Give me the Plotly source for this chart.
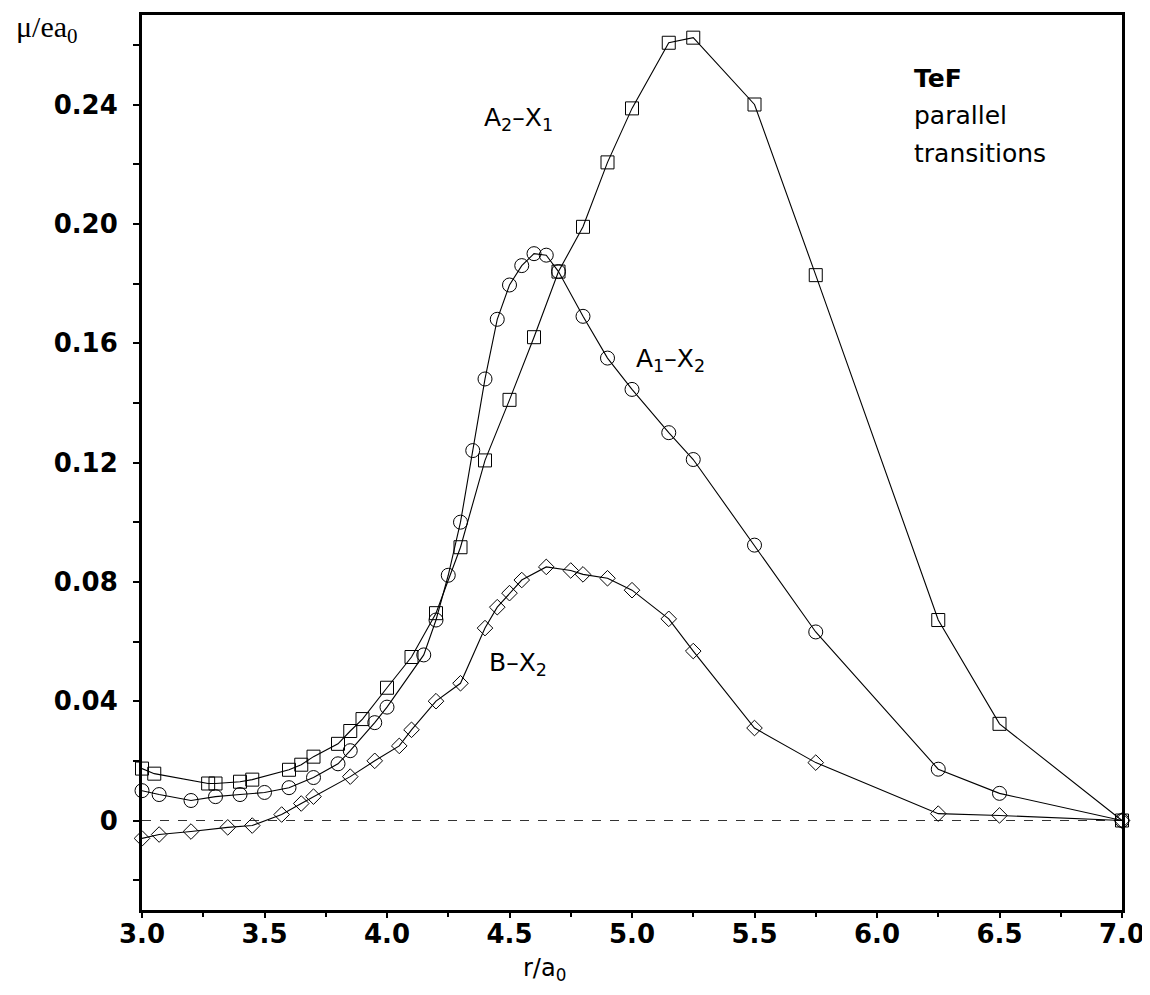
import plotly.graph_objects as go

# A2-X1 (squares)
x_a2x1 = [3.0, 3.05, 3.27, 3.3, 3.4, 3.45, 3.6, 3.65, 3.7, 3.8, 3.85, 3.9, 4.0, 4.1, 4.2,
          4.3, 4.4, 4.5, 4.6, 4.7, 4.8, 4.9, 5.0, 5.15, 5.25, 5.5, 5.75, 6.25, 6.5, 7.0]
y_a2x1 = [0.0174, 0.0157, 0.0124, 0.0124, 0.0130, 0.0137, 0.0170, 0.0187, 0.0214, 0.0257,
          0.0300, 0.0340, 0.0445, 0.0548, 0.0695, 0.0916, 0.1207, 0.1410, 0.1620, 0.1840,
          0.1990, 0.2206, 0.2387, 0.2607, 0.2624, 0.2400, 0.1828, 0.0672, 0.0324, 0.0]

# A1-X2 (circles)
x_a1x2 = [3.0, 3.07, 3.2, 3.3, 3.4, 3.5, 3.6, 3.7, 3.8, 3.85, 3.95, 4.0, 4.15, 4.2, 4.25,
          4.3, 4.35, 4.4, 4.45, 4.5, 4.55, 4.6, 4.65, 4.7, 4.8, 4.9, 5.0, 5.15, 5.25, 5.5,
          5.75, 6.25, 6.5, 7.0]
y_a1x2 = [0.0100, 0.0087, 0.0067, 0.0080, 0.0087, 0.0094, 0.0110, 0.0144, 0.0190, 0.0234,
          0.0328, 0.0380, 0.0555, 0.0672, 0.0822, 0.1000, 0.1240, 0.1480, 0.1680, 0.1795,
          0.1860, 0.1900, 0.1895, 0.1840, 0.1690, 0.1550, 0.1445, 0.1300, 0.1210, 0.0923,
          0.0632, 0.0172, 0.0091, 0.0]

# B-X2 (diamonds)
x_bx2 = [3.0, 3.07, 3.2, 3.35, 3.45, 3.57, 3.65, 3.7, 3.85, 3.95, 4.05, 4.1, 4.2, 4.3, 4.4,
         4.45, 4.5, 4.55, 4.65, 4.75, 4.8, 4.9, 5.0, 5.15, 5.25, 5.5, 5.75, 6.25, 6.5, 7.0]
y_bx2 = [-0.0060, -0.0047, -0.0037, -0.0023, -0.0017, 0.0020, 0.0057, 0.0080, 0.0147, 0.0200,
         0.0250, 0.0304, 0.0400, 0.0460, 0.0645, 0.0715, 0.0762, 0.0806, 0.0850, 0.0838,
         0.0825, 0.0812, 0.0772, 0.0676, 0.0568, 0.0310, 0.0194, 0.0023, 0.0017, 0.0]

x_ticks = [3.0, 3.5, 4.0, 4.5, 5.0, 5.5, 6.0, 6.5, 7.0]
x_ticktext = ["3.0", "3.5", "4.0", "4.5", "5.0", "5.5", "6.0", "6.5", "7.0"]
y_ticks = [0, 0.04, 0.08, 0.12, 0.16, 0.20, 0.24]
y_ticktext = ["0", "0.04", "0.08", "0.12", "0.16", "0.20", "0.24"]

fig = go.Figure()

def add(xs, ys, sym, size):
    fig.add_trace(go.Scatter(
        x=xs, y=ys, mode="lines+markers",
        line=dict(color="black", width=1.1),
        marker=dict(symbol=sym, size=size, color="black", line=dict(width=1, color="black")),
        showlegend=False, cliponaxis=False))

add(x_a2x1, y_a2x1, "square-open", 13)
add(x_a1x2, y_a1x2, "circle-open", 14)
add(x_bx2, y_bx2, "diamond-open", 12)

fig.add_shape(type="line", xref="x", yref="y", x0=3.0, x1=7.0, y0=0, y1=0,
              line=dict(color="#333", width=1, dash="dash"), layer="below")

tfont = dict(family="DejaVu Sans, sans-serif", size=25, color="black")
fig.add_annotation(x=4.388, y=0.235, xref="x", yref="y", text="A<sub>2</sub>–X<sub>1</sub>",
                   showarrow=False, xanchor="left", yanchor="middle", font=tfont)
fig.add_annotation(x=5.008, y=0.1544, xref="x", yref="y", text="A<sub>1</sub>–X<sub>2</sub>",
                   showarrow=False, xanchor="left", yanchor="middle", font=tfont)
fig.add_annotation(x=4.408, y=0.0525, xref="x", yref="y", text="B–X<sub>2</sub>",
                   showarrow=False, xanchor="left", yanchor="middle", font=tfont)
fig.add_annotation(x=6.143, y=0.2487, xref="x", yref="y", text="<b>TeF</b>",
                   showarrow=False, xanchor="left", yanchor="middle", font=tfont)
fig.add_annotation(x=6.143, y=0.2362, xref="x", yref="y", text="parallel",
                   showarrow=False, xanchor="left", yanchor="middle", font=tfont)
fig.add_annotation(x=6.143, y=0.2235, xref="x", yref="y", text="transitions",
                   showarrow=False, xanchor="left", yanchor="middle", font=tfont)

fig.add_annotation(x=-0.097, y=0.984, xref="paper", yref="paper", text="μ/ea<sub>0</sub>",
                   showarrow=False, xanchor="center", yanchor="middle",
                   font=dict(family="Liberation Serif, Times New Roman, serif", size=30, color="black"))
fig.add_annotation(x=0.411, y=-0.066, xref="paper", yref="paper", text="r/a<sub>0</sub>",
                   showarrow=False, xanchor="center", yanchor="middle",
                   font=dict(family="DejaVu Sans, sans-serif", size=24, color="black"))

tickfont = dict(family="DejaVu Sans, sans-serif", size=26, color="black", weight="bold")

fig.update_layout(
    width=1150, height=995,
    margin=dict(l=134, r=36, t=4, b=93),
    paper_bgcolor="white", plot_bgcolor="white",
    xaxis=dict(range=[3.0, 7.0], tickvals=x_ticks, ticktext=x_ticktext,
               showline=True, linecolor="black", linewidth=3, mirror=True,
               ticks="outside", ticklen=5, tickwidth=2, tickcolor="black",
               ticklabelstandoff=-6,
               minor=dict(dtick=0.25, ticks="outside", ticklen=4, tickwidth=1.5, tickcolor="black"),
               showgrid=False, zeroline=False, tickfont=tickfont),
    yaxis=dict(range=[-0.03, 0.27], tickvals=y_ticks, ticktext=y_ticktext,
               showline=True, linecolor="black", linewidth=3, mirror=True,
               ticks="outside", ticklen=6, tickwidth=2, tickcolor="black",
               ticklabelstandoff=10,
               minor=dict(tickvals=[-0.02, 0.02, 0.06, 0.10, 0.14, 0.18, 0.22, 0.26],
                          ticks="outside", ticklen=6, tickwidth=1.5, tickcolor="black"),
               showgrid=False, zeroline=False, tickfont=tickfont),
)

fig.write_html("out.html")
